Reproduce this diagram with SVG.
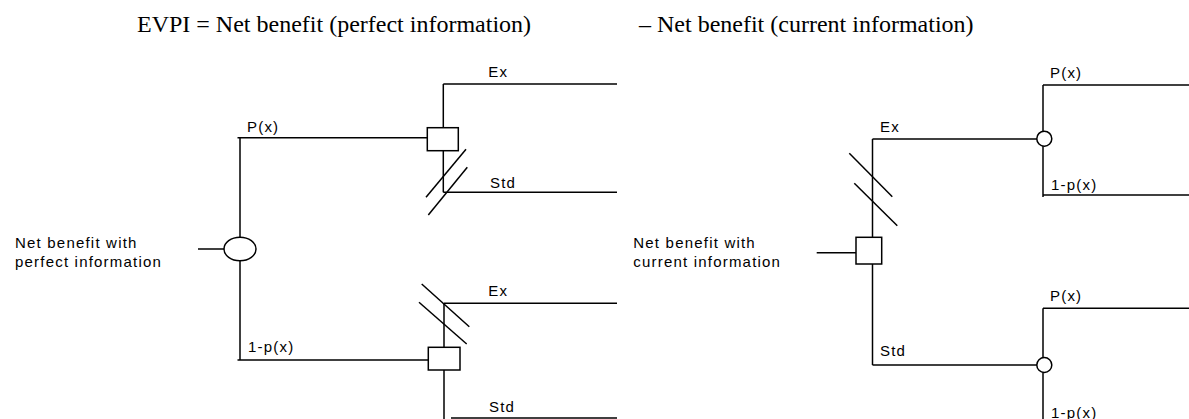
<svg xmlns="http://www.w3.org/2000/svg" width="1189" height="419" viewBox="0 0 1189 419">
<style>
.t{font-family:"Liberation Serif","Times New Roman",serif;font-size:24px;fill:#000}
.l{font-family:"Liberation Sans",Arial,sans-serif;font-size:15px;letter-spacing:1.2px;fill:#000}
.c line{stroke:#000;stroke-width:1.5;fill:none}
.n{stroke:#000;stroke-width:1.5;fill:#fff}
</style>
<rect width="1189" height="419" fill="#fff"/>
<g id="titles">
<text class="t" x="137" y="32">EVPI = Net benefit (perfect information)</text>
<text class="t" x="639" y="32">– Net benefit (current information)</text>
</g>
<g id="connectors" class="c">
<!-- left tree -->
<line x1="198" y1="249" x2="224" y2="249"/>
<line x1="240" y1="137.7" x2="240" y2="360"/>
<line x1="237.5" y1="137.7" x2="428" y2="137.7"/>
<line x1="237.5" y1="360" x2="428" y2="360"/>
<line x1="443.3" y1="84" x2="443.3" y2="192.3"/>
<line x1="443.3" y1="84" x2="617" y2="84"/>
<line x1="443.3" y1="192.3" x2="617" y2="192.3"/>
<line x1="426" y1="197.3" x2="466" y2="149.3"/>
<line x1="428.3" y1="215" x2="467.3" y2="167.3"/>
<line x1="444" y1="303.3" x2="444" y2="419"/>
<line x1="444" y1="303.3" x2="617" y2="303.3"/>
<line x1="421.7" y1="284" x2="469.3" y2="326.7"/>
<line x1="419" y1="302.3" x2="466.7" y2="344"/>
<line x1="451" y1="418" x2="617" y2="418"/>
<!-- right tree -->
<line x1="816.7" y1="252.7" x2="856" y2="252.7"/>
<line x1="872.5" y1="139" x2="872.5" y2="365"/>
<line x1="872.5" y1="139" x2="1037" y2="139"/>
<line x1="872.5" y1="365" x2="1037" y2="365"/>
<line x1="849.3" y1="153.3" x2="892.3" y2="196.7"/>
<line x1="854.3" y1="183.3" x2="897.3" y2="225.7"/>
<line x1="1043" y1="85" x2="1043" y2="197"/>
<line x1="1043" y1="85" x2="1189" y2="85"/>
<line x1="1043" y1="195" x2="1189" y2="195"/>
<line x1="1043" y1="308.3" x2="1043" y2="419"/>
<line x1="1043" y1="308.3" x2="1189" y2="308.3"/>
</g>
<g id="left-root">
<ellipse class="n" cx="240" cy="249" rx="16" ry="11.7"/>
<text class="l" x="15" y="248">Net benefit with</text>
<text class="l" x="15" y="266.7">perfect information</text>
</g>
<g id="left-px">
<text class="l" x="247" y="131.7">P(x)</text>
<rect class="n" x="427.3" y="127.7" width="31" height="23"/>
<text class="l" x="488.3" y="76.7">Ex</text>
<text class="l" x="490" y="187.7">Std</text>
</g>
<g id="left-1px">
<text class="l" x="248" y="352">1-p(x)</text>
<rect class="n" x="428.3" y="347.3" width="31.7" height="22.7"/>
<text class="l" x="488.3" y="296">Ex</text>
<text class="l" x="489" y="411.7">Std</text>
</g>
<g id="right-root">
<rect class="n" x="856" y="237.3" width="25.7" height="26.7"/>
<text class="l" x="633.3" y="247.7">Net benefit with</text>
<text class="l" x="633.3" y="266.7">current information</text>
</g>
<g id="right-ex">
<text class="l" x="880" y="131.7">Ex</text>
<circle class="n" cx="1044.3" cy="138.7" r="7.5"/>
<text class="l" x="1050" y="78.3">P(x)</text>
<text class="l" x="1051" y="190">1-p(x)</text>
</g>
<g id="right-std">
<text class="l" x="880" y="355.7">Std</text>
<circle class="n" cx="1044.3" cy="365" r="7.5"/>
<text class="l" x="1050" y="300.7">P(x)</text>
<text class="l" x="1051" y="418">1-p(x)</text>
</g>
</svg>
